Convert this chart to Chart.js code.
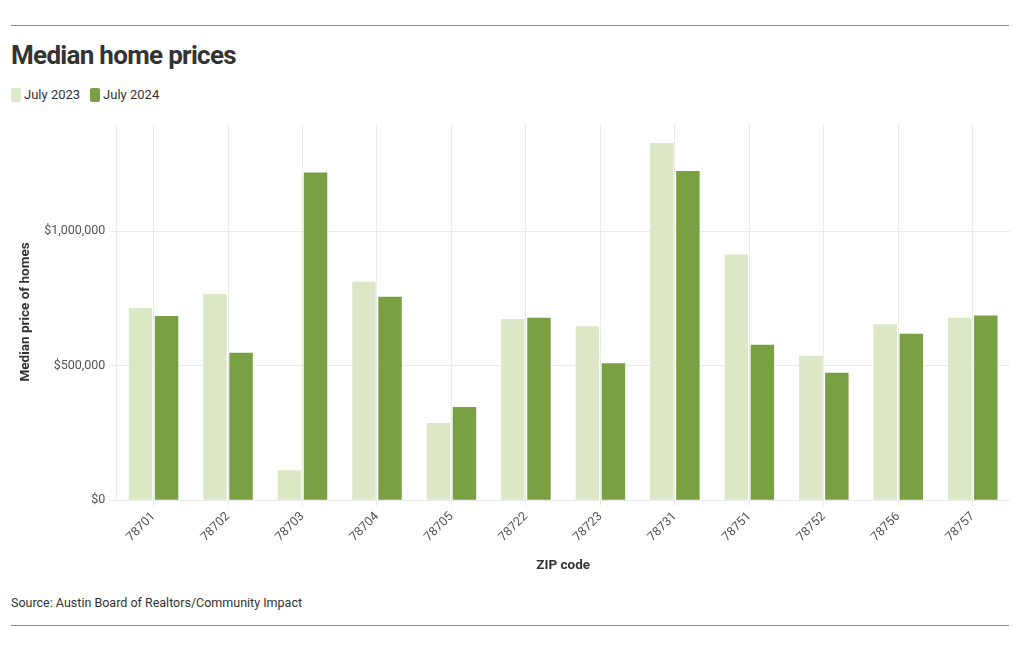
<!DOCTYPE html>
<html>
<head>
<meta charset="utf-8">
<script src="https://cdn.jsdelivr.net/npm/chart.js@4"></script>
<style>
  body { margin: 0; background: #fff; font-family: Roboto, sans-serif; color: #333; }
  #wrap { position: relative; width: 1020px; height: 650px; }
  .rule { position: absolute; left: 11px; width: 998px; height: 1px; background: #8a8a8a; }
  #title { position: absolute; left: 11px; top: 40px; font-size: 26px; font-weight: bold; letter-spacing: -0.7px; color: #333; }
  #legend { position: absolute; left: 11px; top: 87px; font-size: 13px; color: #333; display: flex; align-items: center; }
  #legend span.box { display: inline-block; width: 10px; height: 14px; border-radius: 2px; margin-right: 3px; }
  #legend span.item { margin-right: 10px; display: flex; align-items: center; }
  #source { position: absolute; left: 11px; top: 595px; font-size: 12.5px; color: #333; }
  #chartBox { position: absolute; left: 0; top: 112px; width: 1010px; height: 466px; }
</style>
</head>
<body>
<div id="wrap">
  <div class="rule" style="top:25px"></div>
  <div id="title">Median home prices</div>
  <div id="legend">
    <span class="item"><span class="box" style="background:#dce8c5"></span>July 2023</span>
    <span class="item"><span class="box" style="background:#79a042"></span>July 2024</span>
  </div>
  <div id="chartBox"><canvas id="chart"></canvas></div>
  <div id="source">Source: Austin Board of Realtors/Community Impact</div>
  <div class="rule" style="top:625px"></div>
</div>
<script>
var zipCodes = ["78701", "78702", "78703", "78704", "78705", "78722", "78723", "78731", "78751", "78752", "78756", "78757"];
var prices2023 = [715000, 767000, 112000, 812000, 287000, 674000, 647000, 1328000, 913000, 537000, 654000, 678000];
var prices2024 = [685000, 548000, 1218000, 756000, 347000, 678000, 509000, 1224000, 578000, 474000, 619000, 687000];
var yTicks = [0, 500000, 1000000];

function formatMoney(v) {
    return "$" + v.toLocaleString("en-US");
}

var ctx = document.getElementById("chart");
var chart = new Chart(ctx, {
    type: "bar",
    data: {
        labels: zipCodes,
        datasets: [
            {
                label: "July 2023",
                data: prices2023,
                backgroundColor: "#dce8c5",
                categoryPercentage: 0.7,
                barPercentage: 0.9
            },
            {
                label: "July 2024",
                data: prices2024,
                backgroundColor: "#79a042",
                categoryPercentage: 0.7,
                barPercentage: 0.9
            }
        ]
    },
    options: {
        responsive: true,
        maintainAspectRatio: false,
        animation: false,
        layout: {
            padding: { left: 14, right: 0, top: 10, bottom: 0 }
        },
        plugins: {
            legend: { display: false },
            tooltip: { enabled: false }
        },
        scales: {
            x: {
                grid: {
                    offset: false,
                    color: "#ebebeb",
                    tickLength: 6
                },
                border: { color: "#ebebeb" },
                ticks: {
                    maxRotation: 45,
                    minRotation: 45,
                    color: "#555",
                    font: { family: "Roboto", size: 12.5 }
                },
                title: {
                    display: true,
                    text: "ZIP code",
                    color: "#333",
                    font: { family: "Roboto", size: 13.5, weight: "bold" },
                    padding: { top: 10 }
                }
            },
            y: {
                min: 0,
                max: 1400000,
                afterBuildTicks: function (axis) {
                    axis.ticks = yTicks.map(function (v) { return { value: v }; });
                },
                grid: {
                    color: "#ebebeb",
                    tickLength: 7
                },
                border: { color: "#ebebeb" },
                ticks: {
                    color: "#555",
                    font: { family: "Roboto", size: 12.5 },
                    padding: 4,
                    callback: function (v) { return formatMoney(v); }
                },
                title: {
                    display: true,
                    text: "Median price of homes",
                    color: "#333",
                    font: { family: "Roboto", size: 13.5, weight: "bold" },
                    padding: { bottom: 6 }
                }
            }
        }
    }
});
</script>
</body>
</html>
